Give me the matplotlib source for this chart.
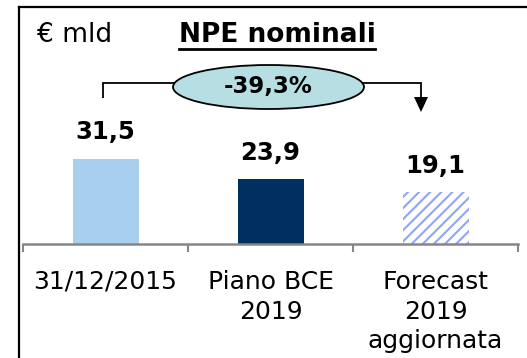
import matplotlib
matplotlib.use("Agg")
import matplotlib.pyplot as plt
from matplotlib.patches import Ellipse
from matplotlib.lines import Line2D

# Data
categories = ["31/12/2015", "Piano BCE\n2019", "Forecast\n2019\naggiornata"]
values = [31.5, 23.9, 19.1]
value_labels = ["31,5", "23,9", "19,1"]
change_label = "-39,3%"
title_text = "NPE nominali"
unit_text = "€ mld"

W, H, DPI = 527, 358, 100
plt.rcParams["font.family"] = ["DejaVu Sans"]
plt.rcParams["hatch.linewidth"] = 1.5

fig = plt.figure(figsize=(W / DPI, H / DPI), dpi=DPI)

# axes: baseline at 243.5 px from top, x spans 23..518 px
base_px = 243.5
px_per_unit = 2.69
left_px, right_px = 23, 518
ax = fig.add_axes([left_px / W, (H - base_px) / H, (right_px - left_px) / W, base_px / H])
ax.set_xlim(-0.5, 2.5)
ax.set_ylim(0, base_px / px_per_unit)

light_blue = "#a9cfef"
navy = "#00305f"
hatch_blue = "#8fa4fb"

x = list(range(len(values)))
bars = ax.bar(x, values, width=0.4, color=[light_blue, navy, "white"], linewidth=0)
bars[2].set_hatch("///")
bars[2].set_edgecolor(hatch_blue)
bars[2].set_linewidth(0)

for xi, v, lab in zip(x, values, value_labels):
    ax.text(xi, v + 26.5 / px_per_unit, lab, ha="center", va="center",
            fontsize=17.5, fontweight="bold", color="black")

# axis styling
for s in ["top", "right", "left"]:
    ax.spines[s].set_visible(False)
ax.spines["bottom"].set_color("#868686")
ax.spines["bottom"].set_linewidth(1.8)
ax.set_yticks([])
ax.set_xticks(x)
ax.set_xticklabels(categories, fontsize=18, linespacing=1.3)
ax.tick_params(axis="x", which="major", length=0, pad=19)
ax.set_xticks([-0.5, 0.5, 1.5, 2.5], minor=True)
ax.tick_params(axis="x", which="minor", length=6, width=1.5, color="#868686", direction="out")


def px_to_data(px_x, px_y):
    return ((px_x - left_px) / (right_px - left_px) * 3 - 0.5,
            (base_px - px_y) / px_per_unit)


# title and unit
tx, ty = px_to_data(277, 42)
title = ax.text(tx, ty, title_text, ha="center", va="baseline",
                fontsize=19, fontweight="bold", color="black")
ux, uy = px_to_data(37, 42)
ax.text(ux, uy, unit_text, ha="left", va="baseline", fontsize=19, color="black")

# bracket with arrow
lx, ly = px_to_data(102.7, 82.7)
_, lb = px_to_data(0, 98)
rx, _ = px_to_data(421, 0)
_, arrow_base = px_to_data(0, 97)
_, arrow_tip = px_to_data(0, 112)
ax.plot([lx, lx, rx, rx], [lb, ly, ly, arrow_base], color="black", lw=1.3,
        solid_capstyle="butt", solid_joinstyle="miter", clip_on=False)
head_w = 14 / (right_px - left_px) * 3
ax.fill([rx - head_w / 2, rx + head_w / 2, rx], [arrow_base, arrow_base, arrow_tip],
        color="black", lw=0, clip_on=False)

ex, ey = px_to_data(268.5, 87)
ell = Ellipse((ex, ey), width=191 / (right_px - left_px) * 3, height=44 / px_per_unit,
              facecolor="#b7dfe3", edgecolor="black", lw=1.3, zorder=3, clip_on=False)
ax.add_patch(ell)
ax.text(ex, ey, change_label, ha="center", va="center", fontsize=16.5,
        fontweight="bold", color="black", zorder=4)

# frame lines (left and top)
fig.add_artist(Line2D([19 / W, 19 / W], [0, 1 - 7 / H], color="black", lw=1.6,
                      transform=fig.transFigure, solid_capstyle="projecting"))
fig.add_artist(Line2D([19 / W, 1], [1 - 7 / H, 1 - 7 / H], color="black", lw=1.6,
                      transform=fig.transFigure, solid_capstyle="projecting"))

# underline under the title
fig.canvas.draw()
bb = title.get_window_extent()
base_disp = ax.transData.transform((tx, ty))[1]
fig.add_artist(Line2D([bb.x0, bb.x1], [base_disp - 7, base_disp - 7], color="black",
                      lw=2.0, transform=None))

fig.savefig("out.png", dpi=DPI)
